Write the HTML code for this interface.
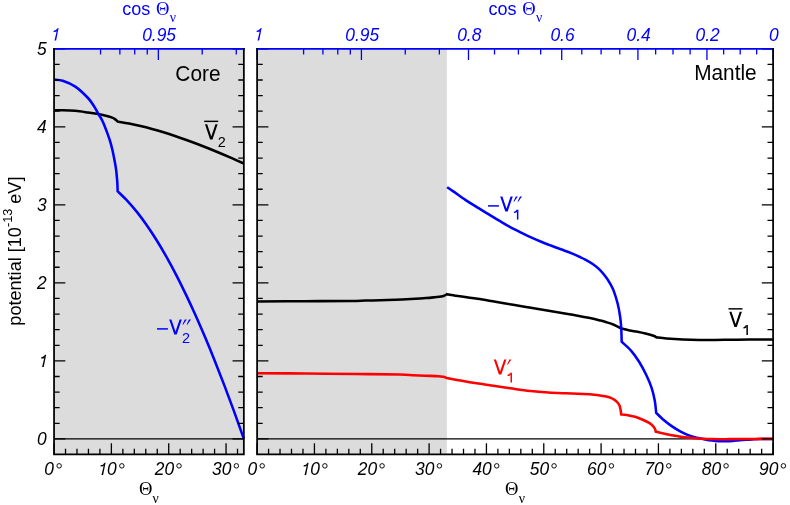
<!DOCTYPE html>
<html><head><meta charset="utf-8"><title>potential</title>
<style>html,body{margin:0;padding:0;background:#fff}svg{display:block;will-change:transform}text{font-family:"Liberation Sans",sans-serif}.s{font-family:"Liberation Serif",serif}.i{font-style:italic}</style></head><body>
<svg width="790" height="505" viewBox="0 0 790 505">
<rect width="790" height="505" fill="#fff"/>
<rect x="54.05" y="48.8" width="189.8" height="405.65" fill="#dcdcdc"/>
<rect x="257.1" y="48.8" width="189.77" height="405.65" fill="#dcdcdc"/>
<g stroke="#000" stroke-width="1.4">
<line x1="54.05" y1="438.9" x2="243.85" y2="438.9"/>
<line x1="257.1" y1="438.9" x2="773.1" y2="438.9"/>
</g>
<g fill="none" stroke-width="2.55" stroke-linejoin="miter" stroke-linecap="butt">
<path stroke="#000" d="M54.05,110.3C55.49,110.28 59.16,110.12 62.7,110.2C66.24,110.28 71.08,110.42 75.3,110.8C79.52,111.18 84.23,111.95 88,112.5C91.77,113.05 94.93,113.55 97.9,114.1C100.87,114.65 103.42,115.22 105.8,115.8C108.18,116.38 110.62,117 112.2,117.6C113.78,118.2 114.4,118.75 115.3,119.4C116.2,120.05 117.22,121.15 117.6,121.5C119.51,121.84 125.25,122.78 129.08,123.54C132.9,124.29 136.73,125.13 140.55,126.04C144.38,126.94 148.21,127.93 152.03,128.97C155.86,130.01 159.68,131.12 163.51,132.29C167.33,133.46 171.16,134.69 174.99,135.97C178.81,137.25 182.64,138.59 186.46,139.97C190.29,141.35 194.12,142.79 197.94,144.26C201.77,145.73 205.59,147.24 209.42,148.79C213.24,150.33 217.07,151.92 220.9,153.53C224.72,155.14 228.55,156.78 232.37,158.45C236.2,160.11 241.94,162.66 243.85,163.5"/>
<path stroke="#0000ff" d="M54.05,79.6C55.49,79.79 59.16,79.58 62.7,80.75C66.24,81.92 71.08,83.72 75.3,86.6C79.52,89.47 84.85,94.68 88,98C91.15,101.32 92.55,103.98 94.2,106.5C95.85,109.02 96.62,110.88 97.9,113.1C99.18,115.32 100.85,117.82 101.9,119.8C102.95,121.78 103.25,122.65 104.2,125C105.15,127.35 106.53,130.93 107.6,133.9C108.67,136.87 109.73,139.83 110.6,142.8C111.47,145.77 112.13,148.72 112.8,151.7C113.47,154.68 114.05,157.72 114.6,160.7C115.15,163.68 115.7,166.63 116.1,169.6C116.5,172.57 116.78,175.93 117,178.5C117.22,181.07 117.34,182.87 117.45,185C117.56,187.13 117.62,190.25 117.65,191.3C119.27,192.88 124.12,197.34 127.36,200.81C130.59,204.28 133.83,208.07 137.07,212.13C140.3,216.2 143.54,220.57 146.77,225.21C150.01,229.86 153.24,234.79 156.48,239.99C159.72,245.18 162.95,250.66 166.19,256.39C169.42,262.12 172.66,268.12 175.9,274.36C179.13,280.6 182.37,287.11 185.6,293.84C188.84,300.57 192.08,307.56 195.31,314.76C198.55,321.97 201.78,329.41 205.02,337.07C208.26,344.73 211.49,352.61 214.73,360.7C217.96,368.79 221.2,377.09 224.43,385.59C227.67,394.08 230.91,402.79 234.14,411.68C237.38,420.56 242.23,434.36 243.85,438.9"/>
<path stroke="#000" d="M257.1,301.4C265.08,301.37 289.52,301.27 305,301.2C320.48,301.13 339.97,301.1 350,301C360.03,300.9 360.13,300.73 365.2,300.6C370.27,300.47 375.33,300.35 380.4,300.2C385.47,300.05 390.53,299.9 395.6,299.7C400.67,299.5 405.73,299.27 410.8,299C415.87,298.73 421.95,298.4 426,298.1C430.05,297.8 432.58,297.47 435.1,297.2C437.62,296.93 439.58,296.75 441.1,296.5C442.62,296.25 443.23,296.08 444.2,295.7C445.17,295.32 446.45,294.45 446.9,294.2C448.47,294.47 454.12,295.47 456.3,295.8C458.48,296.13 456.43,295.7 460,296.2C463.57,296.7 471.8,297.87 477.7,298.8C483.6,299.73 489.48,300.8 495.4,301.8C501.32,302.8 507.28,303.82 513.2,304.8C519.12,305.78 525,306.72 530.9,307.7C536.8,308.68 542.7,309.7 548.6,310.7C554.5,311.7 560.4,312.67 566.3,313.7C572.2,314.73 580.05,316.18 584,316.9C587.95,317.62 587.33,317.42 590,318C592.67,318.58 597.37,319.73 600,320.4C602.63,321.07 603.5,321.28 605.8,322C608.1,322.72 611.28,323.65 613.8,324.7C616.32,325.75 619.72,327.7 620.9,328.3C622.35,328.65 626.83,329.82 629.6,330.4C632.37,330.98 634.85,331.27 637.5,331.8C640.15,332.33 642.85,332.93 645.5,333.6C648.15,334.27 651.55,335.17 653.4,335.8C655.25,336.43 656.07,337.13 656.6,337.4C658.25,337.57 662.12,338.07 666.5,338.4C670.88,338.73 677.42,339.15 682.9,339.4C688.38,339.65 693.92,339.82 699.4,339.9C704.88,339.98 710.32,339.92 715.8,339.9C721.28,339.88 726.82,339.8 732.3,339.75C737.78,339.7 741.9,339.66 748.7,339.6C755.5,339.54 769.03,339.43 773.1,339.4"/>
<path stroke="#0000ff" d="M447.1,187.2C448.07,187.85 449.8,188.95 452.9,191.1C456,193.25 461.42,197.25 465.7,200.1C469.98,202.95 474.55,205.7 478.6,208.2C482.65,210.7 486.42,212.93 490,215.1C493.58,217.27 496.73,219.2 500.1,221.2C503.48,223.2 506.87,225.25 510.25,227.1C513.63,228.95 517.02,230.62 520.4,232.3C523.77,233.98 527.13,235.67 530.5,237.2C533.87,238.73 537.22,240.12 540.6,241.5C543.98,242.88 547.42,244.2 550.8,245.5C554.18,246.8 557.4,247.98 560.9,249.3C564.4,250.62 568.83,252.2 571.8,253.4C574.77,254.6 576.38,255.43 578.7,256.5C581.02,257.57 583.37,258.55 585.7,259.8C588.03,261.05 590.38,262.37 592.7,264C595.02,265.63 597.28,267.28 599.6,269.6C601.92,271.92 604.73,275.35 606.6,277.9C608.47,280.45 609.6,282.7 610.8,284.9C612,287.1 612.65,287.95 613.8,291.1C614.95,294.25 616.65,299.57 617.7,303.8C618.75,308.03 619.52,312.55 620.1,316.5C620.68,320.45 620.93,323.28 621.2,327.5C621.47,331.72 621.62,339.42 621.7,341.8C623.22,343.23 627.9,347.07 630.8,350.4C633.7,353.73 636.5,357.65 639.1,361.8C641.7,365.95 644.32,370.97 646.4,375.3C648.48,379.63 650.22,383.63 651.6,387.8C652.98,391.97 653.93,396.13 654.7,400.3C655.47,404.47 655.95,410.72 656.2,412.8C657.3,413.87 660.22,416.98 662.8,419.2C665.38,421.42 668.73,424.03 671.7,426.1C674.68,428.17 677.67,430.01 680.65,431.6C683.63,433.19 686.62,434.57 689.6,435.65C692.58,436.73 695.93,437.48 698.5,438.1C701.07,438.73 702.78,439 705,439.4C707.22,439.8 709.52,440.2 711.8,440.5C714.08,440.8 716.38,441.08 718.7,441.2C721.02,441.32 723.37,441.25 725.7,441.2C728.03,441.15 730.38,441.07 732.7,440.9C735.02,440.73 737.28,440.4 739.6,440.2C741.92,440 744.27,439.84 746.6,439.7C748.93,439.56 751.28,439.46 753.6,439.35C755.92,439.24 757.25,439.12 760.5,439.05C763.75,438.98 771,438.92 773.1,438.9"/>
<path stroke="#ff0000" d="M257.1,373.2C265.18,373.25 289.07,373.37 305.6,373.5C322.13,373.63 340.57,373.82 356.3,374C372.03,374.18 390.6,374.4 400,374.6C409.4,374.8 408.48,375.02 412.7,375.2C416.92,375.38 421.08,375.53 425.3,375.7C429.52,375.87 435.05,376.02 438,376.2C440.95,376.38 441.53,376.5 443,376.8C444.47,377.1 446.17,377.8 446.8,378C448.5,378.32 453.2,379.2 457,379.9C460.8,380.6 465.38,381.5 469.6,382.2C473.82,382.9 478.07,383.47 482.3,384.1C486.53,384.73 489.93,385.25 495,386C500.07,386.75 506.8,387.78 512.7,388.6C518.6,389.42 524.48,390.27 530.4,390.9C536.32,391.53 542.28,392 548.2,392.4C554.12,392.8 560,393.03 565.9,393.3C571.8,393.57 578.88,393.77 583.6,394C588.32,394.23 591.25,394.42 594.2,394.7C597.15,394.98 598.93,395.32 601.3,395.7C603.67,396.08 606.95,396.7 608.4,397C609.85,397.3 609.03,397.07 610,397.5C610.97,397.93 612.95,398.77 614.2,399.6C615.45,400.43 616.6,401.47 617.5,402.5C618.4,403.53 619.08,404.55 619.6,405.8C620.12,407.05 620.38,408.57 620.65,410C620.92,411.43 621.11,413.67 621.2,414.4C622.1,414.49 624.3,414.55 626.6,414.95C628.9,415.35 632.22,415.96 635,416.8C637.78,417.64 640.95,418.98 643.3,420C645.65,421.02 647.51,421.93 649.1,422.9C650.69,423.87 651.88,424.83 652.85,425.8C653.82,426.77 654.41,427.72 654.9,428.7C655.39,429.68 655.65,431.2 655.8,431.7C656.48,431.87 658.37,432.35 659.9,432.7C661.43,433.05 663.03,433.38 665,433.8C666.97,434.22 669.09,434.72 671.7,435.2C674.31,435.68 677.67,436.27 680.65,436.7C683.63,437.13 686.62,437.5 689.6,437.8C692.58,438.1 695.93,438.32 698.5,438.5C701.07,438.68 702.78,438.75 705,438.85C707.22,438.95 708.35,439.05 711.8,439.1C715.25,439.15 721.07,439.17 725.7,439.15C730.33,439.13 734.95,439.04 739.6,439C744.25,438.96 748.02,438.92 753.6,438.9C759.18,438.88 769.85,438.86 773.1,438.85"/>
</g>
<g fill="none" stroke-width="1.3">
<path stroke="#000" d="M54.05,454.45v-11.3M65.52,454.45v-5.6M76.98,454.45v-5.6M88.45,454.45v-5.6M99.92,454.45v-5.6M111.38,454.45v-11.3M122.85,454.45v-5.6M134.32,454.45v-5.6M145.78,454.45v-5.6M157.25,454.45v-5.6M168.72,454.45v-11.3M180.18,454.45v-5.6M191.65,454.45v-5.6M203.12,454.45v-5.6M214.58,454.45v-5.6M226.05,454.45v-11.3M237.52,454.45v-5.6M257.1,454.45v-11.3M268.57,454.45v-5.6M280.03,454.45v-5.6M291.5,454.45v-5.6M302.97,454.45v-5.6M314.43,454.45v-11.3M325.9,454.45v-5.6M337.37,454.45v-5.6M348.83,454.45v-5.6M360.3,454.45v-5.6M371.77,454.45v-11.3M383.23,454.45v-5.6M394.7,454.45v-5.6M406.17,454.45v-5.6M417.63,454.45v-5.6M429.1,454.45v-11.3M440.57,454.45v-5.6M452.03,454.45v-5.6M463.5,454.45v-5.6M474.97,454.45v-5.6M486.43,454.45v-11.3M497.9,454.45v-5.6M509.37,454.45v-5.6M520.83,454.45v-5.6M532.3,454.45v-5.6M543.77,454.45v-11.3M555.23,454.45v-5.6M566.7,454.45v-5.6M578.17,454.45v-5.6M589.63,454.45v-5.6M601.1,454.45v-11.3M612.57,454.45v-5.6M624.03,454.45v-5.6M635.5,454.45v-5.6M646.97,454.45v-5.6M658.43,454.45v-11.3M669.9,454.45v-5.6M681.37,454.45v-5.6M692.83,454.45v-5.6M704.3,454.45v-5.6M715.77,454.45v-11.3M727.23,454.45v-5.6M738.7,454.45v-5.6M750.17,454.45v-5.6M761.63,454.45v-5.6M773.1,454.45v-11.3"/>
<path stroke="#0000ff" d="M54.05,48.8v11.3M158.37,48.8v11.3M100.55,48.8v5.6M119.86,48.8v5.6M134.72,48.8v5.6M147.28,48.8v5.6M202.21,48.8v5.6M236.3,48.8v5.6M257.1,48.8v11.3M361.42,48.8v11.3M468.49,48.8v11.3M561.71,48.8v11.3M637.92,48.8v11.3M706.95,48.8v11.3M773.1,48.8v11.3M303.6,48.8v5.6M322.91,48.8v5.6M337.77,48.8v5.6M350.33,48.8v5.6M405.26,48.8v5.6M439.35,48.8v5.6M494.52,48.8v5.6M518.39,48.8v5.6M540.66,48.8v5.6M581.8,48.8v5.6M601.1,48.8v5.6M619.77,48.8v5.6M655.64,48.8v5.6M673.01,48.8v5.6M690.1,48.8v5.6M723.64,48.8v5.6M740.2,48.8v5.6M756.67,48.8v5.6"/>
<path stroke="#000" d="M54.05,438.9h11.3M54.05,423.3h5.6M54.05,407.69h5.6M54.05,392.09h5.6M54.05,376.48h5.6M54.05,360.88h11.3M54.05,345.28h5.6M54.05,329.67h5.6M54.05,314.07h5.6M54.05,298.46h5.6M54.05,282.86h11.3M54.05,267.26h5.6M54.05,251.65h5.6M54.05,236.05h5.6M54.05,220.44h5.6M54.05,204.84h11.3M54.05,189.24h5.6M54.05,173.63h5.6M54.05,158.03h5.6M54.05,142.42h5.6M54.05,126.82h11.3M54.05,111.22h5.6M54.05,95.61h5.6M54.05,80.01h5.6M54.05,64.4h5.6M54.05,48.8h11.3M243.85,438.9h-11.3M243.85,423.3h-5.6M243.85,407.69h-5.6M243.85,392.09h-5.6M243.85,376.48h-5.6M243.85,360.88h-11.3M243.85,345.28h-5.6M243.85,329.67h-5.6M243.85,314.07h-5.6M243.85,298.46h-5.6M243.85,282.86h-11.3M243.85,267.26h-5.6M243.85,251.65h-5.6M243.85,236.05h-5.6M243.85,220.44h-5.6M243.85,204.84h-11.3M243.85,189.24h-5.6M243.85,173.63h-5.6M243.85,158.03h-5.6M243.85,142.42h-5.6M243.85,126.82h-11.3M243.85,111.22h-5.6M243.85,95.61h-5.6M243.85,80.01h-5.6M243.85,64.4h-5.6M243.85,48.8h-11.3M257.1,438.9h11.3M257.1,423.3h5.6M257.1,407.69h5.6M257.1,392.09h5.6M257.1,376.48h5.6M257.1,360.88h11.3M257.1,345.28h5.6M257.1,329.67h5.6M257.1,314.07h5.6M257.1,298.46h5.6M257.1,282.86h11.3M257.1,267.26h5.6M257.1,251.65h5.6M257.1,236.05h5.6M257.1,220.44h5.6M257.1,204.84h11.3M257.1,189.24h5.6M257.1,173.63h5.6M257.1,158.03h5.6M257.1,142.42h5.6M257.1,126.82h11.3M257.1,111.22h5.6M257.1,95.61h5.6M257.1,80.01h5.6M257.1,64.4h5.6M257.1,48.8h11.3M773.1,438.9h-11.3M773.1,423.3h-5.6M773.1,407.69h-5.6M773.1,392.09h-5.6M773.1,376.48h-5.6M773.1,360.88h-11.3M773.1,345.28h-5.6M773.1,329.67h-5.6M773.1,314.07h-5.6M773.1,298.46h-5.6M773.1,282.86h-11.3M773.1,267.26h-5.6M773.1,251.65h-5.6M773.1,236.05h-5.6M773.1,220.44h-5.6M773.1,204.84h-11.3M773.1,189.24h-5.6M773.1,173.63h-5.6M773.1,158.03h-5.6M773.1,142.42h-5.6M773.1,126.82h-11.3M773.1,111.22h-5.6M773.1,95.61h-5.6M773.1,80.01h-5.6M773.1,64.4h-5.6M773.1,48.8h-11.3"/>
</g>
<g fill="none" stroke-width="1.75" stroke-linecap="butt">
<path stroke="#0000ff" d="M53.17,48.8H244.72M256.23,48.8H773.98"/>
<path stroke="#000" d="M54.05,47.92V454.45H243.85V47.92"/>
<path stroke="#000" d="M257.1,47.92V454.45H773.1V47.92"/>
</g>
<text class="i" transform="translate(46.7,445.1) scale(0.98,1)" font-size="17.75" fill="#000" text-anchor="end">0</text>
<path fill="#000" d="M42.1,367.08L43.72,367.08L46.16,354.68L45.04,354.68ZM45.09,354.68Q43.74,357.13 41.34,357.28L41.09,358.53L43.99,358.38Z"/>
<text class="i" transform="translate(46.7,289.06) scale(0.98,1)" font-size="17.75" fill="#000" text-anchor="end">2</text>
<text class="i" transform="translate(46.7,211.04) scale(0.98,1)" font-size="17.75" fill="#000" text-anchor="end">3</text>
<text class="i" transform="translate(46.7,133.02) scale(0.98,1)" font-size="17.75" fill="#000" text-anchor="end">4</text>
<text class="i" transform="translate(46.7,55) scale(0.98,1)" font-size="17.75" fill="#000" text-anchor="end">5</text>
<text class="i" transform="translate(44.35,475.35) scale(0.98,1)" font-size="17.75" fill="#000" text-anchor="start">0</text>
<circle cx="59.15" cy="465.85" r="2.25" fill="none" stroke="#000" stroke-width="0.95"/>
<path fill="#000" d="M101.48,475.05L103.1,475.05L105.55,462.65L104.43,462.65ZM104.48,462.65Q103.13,465.1 100.73,465.25L100.48,466.5L103.38,466.35Z"/>
<text class="i" transform="translate(107.1,475.35) scale(0.98,1)" font-size="17.75" fill="#000" text-anchor="start">0</text>
<circle cx="121.83" cy="465.85" r="2.25" fill="none" stroke="#000" stroke-width="0.95"/>
<text class="i" transform="translate(154.72,475.35) scale(0.98,1)" font-size="17.75" fill="#000" text-anchor="start">20</text>
<circle cx="179.02" cy="465.85" r="2.25" fill="none" stroke="#000" stroke-width="0.95"/>
<text class="i" transform="translate(212.05,475.35) scale(0.98,1)" font-size="17.75" fill="#000" text-anchor="start">30</text>
<circle cx="236.35" cy="465.85" r="2.25" fill="none" stroke="#000" stroke-width="0.95"/>
<text class="i" transform="translate(247.4,475.35) scale(0.98,1)" font-size="17.75" fill="#000" text-anchor="start">0</text>
<circle cx="262.2" cy="465.85" r="2.25" fill="none" stroke="#000" stroke-width="0.95"/>
<path fill="#000" d="M304.53,475.05L306.15,475.05L308.6,462.65L307.48,462.65ZM307.53,462.65Q306.18,465.1 303.78,465.25L303.53,466.5L306.43,466.35Z"/>
<text class="i" transform="translate(310.15,475.35) scale(0.98,1)" font-size="17.75" fill="#000" text-anchor="start">0</text>
<circle cx="324.88" cy="465.85" r="2.25" fill="none" stroke="#000" stroke-width="0.95"/>
<text class="i" transform="translate(357.77,475.35) scale(0.98,1)" font-size="17.75" fill="#000" text-anchor="start">20</text>
<circle cx="382.07" cy="465.85" r="2.25" fill="none" stroke="#000" stroke-width="0.95"/>
<text class="i" transform="translate(415.1,475.35) scale(0.98,1)" font-size="17.75" fill="#000" text-anchor="start">30</text>
<circle cx="439.4" cy="465.85" r="2.25" fill="none" stroke="#000" stroke-width="0.95"/>
<text class="i" transform="translate(472.43,475.35) scale(0.98,1)" font-size="17.75" fill="#000" text-anchor="start">40</text>
<circle cx="496.73" cy="465.85" r="2.25" fill="none" stroke="#000" stroke-width="0.95"/>
<text class="i" transform="translate(529.77,475.35) scale(0.98,1)" font-size="17.75" fill="#000" text-anchor="start">50</text>
<circle cx="554.07" cy="465.85" r="2.25" fill="none" stroke="#000" stroke-width="0.95"/>
<text class="i" transform="translate(587.1,475.35) scale(0.98,1)" font-size="17.75" fill="#000" text-anchor="start">60</text>
<circle cx="611.4" cy="465.85" r="2.25" fill="none" stroke="#000" stroke-width="0.95"/>
<text class="i" transform="translate(644.43,475.35) scale(0.98,1)" font-size="17.75" fill="#000" text-anchor="start">70</text>
<circle cx="668.73" cy="465.85" r="2.25" fill="none" stroke="#000" stroke-width="0.95"/>
<text class="i" transform="translate(701.77,475.35) scale(0.98,1)" font-size="17.75" fill="#000" text-anchor="start">80</text>
<circle cx="726.07" cy="465.85" r="2.25" fill="none" stroke="#000" stroke-width="0.95"/>
<text class="i" transform="translate(759.1,475.35) scale(0.98,1)" font-size="17.75" fill="#000" text-anchor="start">90</text>
<circle cx="783.4" cy="465.85" r="2.25" fill="none" stroke="#000" stroke-width="0.95"/>
<path fill="#0000ff" d="M54.5,40.6L56.12,40.6L58.58,28.1L57.46,28.1ZM57.51,28.1Q56.16,30.55 53.76,30.7L53.51,31.95L56.41,31.8Z"/>
<text class="i" transform="translate(159.12,40.75) scale(0.98,1)" font-size="17.75" fill="#0000ff" text-anchor="middle">0.95</text>
<path fill="#0000ff" d="M257.55,40.6L259.17,40.6L261.63,28.1L260.51,28.1ZM260.56,28.1Q259.21,30.55 256.81,30.7L256.56,31.95L259.46,31.8Z"/>
<text class="i" transform="translate(362.17,40.75) scale(0.98,1)" font-size="17.75" fill="#0000ff" text-anchor="middle">0.95</text>
<text class="i" transform="translate(469.24,40.75) scale(0.98,1)" font-size="17.75" fill="#0000ff" text-anchor="middle">0.8</text>
<text class="i" transform="translate(562.46,40.75) scale(0.98,1)" font-size="17.75" fill="#0000ff" text-anchor="middle">0.6</text>
<text class="i" transform="translate(638.67,40.75) scale(0.98,1)" font-size="17.75" fill="#0000ff" text-anchor="middle">0.4</text>
<text class="i" transform="translate(707.7,40.75) scale(0.98,1)" font-size="17.75" fill="#0000ff" text-anchor="middle">0.2</text>
<text class="i" transform="translate(773.85,40.75) scale(0.98,1)" font-size="17.75" fill="#0000ff" text-anchor="middle">0</text>
<text x="150.2" y="14.5" fill="#0000ff" font-size="18" text-anchor="end">cos</text><text x="156.1" y="14.5" fill="#0000ff" class="s" font-size="18.6">Θ<tspan font-size="13.8" dy="7.3" dx="0.2">ν</tspan></text>
<text x="516.4" y="14.5" fill="#0000ff" font-size="18" text-anchor="end">cos</text><text x="522.3" y="14.5" fill="#0000ff" class="s" font-size="18.6">Θ<tspan font-size="13.8" dy="7.3" dx="0.2">ν</tspan></text>
<text x="138.9" y="495.2" fill="#000" class="s" font-size="18.6">Θ<tspan font-size="13.8" dy="7.3" dx="0.2">ν</tspan></text>
<text x="505.1" y="495.2" fill="#000" class="s" font-size="18.6">Θ<tspan font-size="13.8" dy="7.3" dx="0.2">ν</tspan></text>
<text transform="translate(21.4,251.12) rotate(-90)" font-size="18.1" text-anchor="middle" fill="#000">potential [10<tspan font-size="12.7" dy="-9.8">-13</tspan><tspan dy="9.8"> eV]</tspan></text>
<text transform="translate(220.5,80.5) scale(0.97,1)" font-size="21.5" fill="#000" text-anchor="end">Core</text>
<text transform="translate(756.7,80.3) scale(0.97,1)" font-size="21.5" fill="#000" text-anchor="end">Mantle</text>
<line x1="157" y1="328.9" x2="167.9" y2="328.9" stroke="#0000ff" stroke-width="1.5"/><path fill="#0000ff" d="M169.2,319.45L171.4,319.45L175.5,331.5L179.6,319.45L181.8,319.45L176.7,334.5L174.3,334.5Z"/><text transform="translate(182,342.55) scale(0.95,1)" font-size="15.2" fill="#0000ff" text-anchor="start">2</text><path d="M184.8,319.4L186.8,319.4L183.1,324.8L182.45,324.6Z" fill="#0000ff"/><path d="M188.95,319.4L190.95,319.4L187.25,324.8L186.6,324.6Z" fill="#0000ff"/>
<line x1="488" y1="205.9" x2="498.9" y2="205.9" stroke="#0000ff" stroke-width="1.5"/><path fill="#0000ff" d="M500.2,196.45L502.4,196.45L506.5,208.5L510.6,196.45L512.8,196.45L507.7,211.5L505.3,211.5Z"/><path fill="#0000ff" d="M516.9,209.7H518.4V219.6H516.9Z"/><path fill="#0000ff" d="M517,209.7L517,212Q515.8,212.9 513.9,213L513.9,211.8Q515.8,211.6 516.4,209.7Z"/><path d="M515.8,196.4L517.8,196.4L514.1,201.8L513.45,201.6Z" fill="#0000ff"/><path d="M519.95,196.4L521.95,196.4L518.25,201.8L517.6,201.6Z" fill="#0000ff"/>
<path fill="#ff0000" d="M493.8,359.45L496,359.45L500.1,371.5L504.2,359.45L506.4,359.45L501.3,374.5L498.9,374.5Z"/><path fill="#ff0000" d="M510.5,372.7H512V382.6H510.5Z"/><path fill="#ff0000" d="M510.6,372.7L510.6,375Q509.4,375.9 507.5,376L507.5,374.8Q509.4,374.6 510,372.7Z"/><path d="M509.4,359.4L511.4,359.4L507.7,364.8L507.05,364.6Z" fill="#ff0000"/>
<path fill="#000" d="M205,124.35L207.2,124.35L211.3,136.4L215.4,124.35L217.6,124.35L212.5,139.4L210.1,139.4Z"/><line x1="204.2" y1="121.35" x2="218.2" y2="121.35" stroke="#000" stroke-width="1.45"/><text transform="translate(217.8,147.45) scale(0.95,1)" font-size="15.2" fill="#000" text-anchor="start">2</text>
<path fill="#000" d="M729.3,311.85L731.5,311.85L735.6,323.9L739.7,311.85L741.9,311.85L736.8,326.9L734.4,326.9Z"/><line x1="728.5" y1="308.85" x2="742.5" y2="308.85" stroke="#000" stroke-width="1.45"/><path fill="#000" d="M746.4,325.1H747.9V335H746.4Z"/><path fill="#000" d="M746.5,325.1L746.5,327.4Q745.3,328.3 743.4,328.4L743.4,327.2Q745.3,327 745.9,325.1Z"/>
</svg></body></html>
